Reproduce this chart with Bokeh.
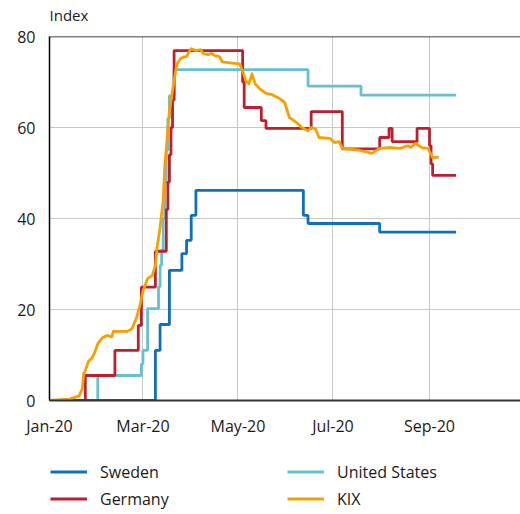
from datetime import datetime
import pandas as pd
from bokeh.plotting import figure
from bokeh.layouts import column
from bokeh.models import (Range1d, FixedTicker, DatetimeTickFormatter, Legend,
                          LegendItem, Span, Label)
from bokeh.embed import file_html
from bokeh.resources import INLINE

# ---------------- data ----------------
sweden_dates = ["2020-01-01", "2020-03-09", "2020-03-12", "2020-03-18", "2020-03-26",
                "2020-03-29", "2020-04-01", "2020-04-04", "2020-06-12", "2020-06-15",
                "2020-07-31", "2020-09-18"]
sweden_vals = [0, 11.0, 16.7, 28.6, 32.3, 35.2, 40.7, 46.2, 40.7, 38.9, 37.0, 37.0]

us_dates = ["2020-01-01", "2020-02-01", "2020-02-29", "2020-03-01", "2020-03-04",
            "2020-03-11", "2020-03-12", "2020-03-13", "2020-03-14", "2020-03-15",
            "2020-03-16", "2020-03-17", "2020-03-18", "2020-03-21", "2020-06-15",
            "2020-07-19", "2020-09-18"]
us_vals = [0, 5.5, 8.0, 11.0, 20.2, 25.0, 29.7, 33.0, 40.0, 48.0, 55.0, 62.0, 67.0,
           72.7, 69.1, 67.1, 67.1]

germany_dates = ["2020-01-01", "2020-01-24", "2020-02-12", "2020-02-27", "2020-02-29",
                 "2020-03-09", "2020-03-16", "2020-03-17", "2020-03-18", "2020-03-19",
                 "2020-03-20", "2020-03-21", "2020-05-04", "2020-05-05", "2020-05-16",
                 "2020-05-19", "2020-06-17", "2020-07-07", "2020-07-31", "2020-08-06",
                 "2020-08-08", "2020-08-24", "2020-09-01", "2020-09-02", "2020-09-03",
                 "2020-09-18"]
germany_vals = [0, 5.5, 11.0, 16.5, 24.9, 32.8, 42.0, 48.0, 54.0, 60.0, 66.0, 76.9,
                70.0, 64.4, 61.5, 59.8, 63.5, 55.3, 57.8, 59.8, 56.9, 59.8, 56.0, 52.0,
                49.5, 49.5]

kix_dates = ["2020-01-01", "2020-01-14", "2020-01-20", "2020-01-22", "2020-01-23",
             "2020-01-24", "2020-01-26", "2020-01-28", "2020-01-30", "2020-02-01",
             "2020-02-04", "2020-02-07", "2020-02-10", "2020-02-11", "2020-02-20",
             "2020-02-23", "2020-02-26", "2020-02-28", "2020-03-01", "2020-03-04",
             "2020-03-07", "2020-03-09", "2020-03-10", "2020-03-12", "2020-03-14",
             "2020-03-15", "2020-03-18", "2020-03-22", "2020-03-23", "2020-03-25",
             "2020-03-27", "2020-03-29", "2020-03-31", "2020-04-01", "2020-04-04",
             "2020-04-07", "2020-04-09", "2020-04-12", "2020-04-14", "2020-04-16",
             "2020-04-19", "2020-04-21", "2020-04-26", "2020-05-02", "2020-05-04",
             "2020-05-06", "2020-05-08", "2020-05-10", "2020-05-12", "2020-05-15",
             "2020-05-19", "2020-05-23", "2020-05-28", "2020-05-31", "2020-06-03",
             "2020-06-08", "2020-06-11", "2020-06-15", "2020-06-17", "2020-06-20",
             "2020-06-22", "2020-06-29", "2020-07-02", "2020-07-05", "2020-07-07",
             "2020-07-18", "2020-07-26", "2020-07-31", "2020-08-06", "2020-08-13",
             "2020-08-18", "2020-08-20", "2020-08-23", "2020-08-27", "2020-08-31",
             "2020-09-03", "2020-09-07"]
kix_vals = [0.0, 0.3, 1.0, 2.5, 6.0, 6.5, 8.6, 9.2, 10.5, 12.5,
            13.8, 14.3, 14.0, 15.2, 15.2, 15.8, 18.3, 20.8, 24.0, 26.8,
            27.5, 29.7, 33.4, 38.0, 44.0, 51.3, 63.7, 72.5, 74.0, 75.1,
            75.5, 75.6, 76.9, 77.3, 76.9, 77.1, 76.2, 76.0, 76.3, 75.8,
            75.6, 74.4, 74.2, 74.0, 72.5, 70.3, 69.6, 71.8, 69.6, 68.5,
            67.5, 67.2, 66.3, 65.5, 62.2, 61.0, 60.0, 59.3, 60.0, 59.6,
            57.8, 57.6, 56.7, 56.9, 55.4, 55.0, 54.3, 55.4, 55.6, 55.4,
            56.0, 55.6, 56.5, 55.6, 55.4, 53.4, 53.5]

tick_dates = ["2020-01-01", "2020-03-01", "2020-05-01", "2020-07-01", "2020-09-01"]
tick_labels = ["Jan-20", "Mar-20", "May-20", "Jul-20", "Sep-20"]
y_ticks = [0, 20, 40, 60, 80]
unit_label = "Index"

series_names = ["Sweden", "Germany", "United States", "KIX"]
colors = {"Sweden": "#1170b8", "Germany": "#be1e2d",
          "United States": "#62c2d2", "KIX": "#f7a000"}
series_data = {"Sweden": (sweden_dates, sweden_vals),
               "Germany": (germany_dates, germany_vals),
               "United States": (us_dates, us_vals),
               "KIX": (kix_dates, kix_vals)}
step_series = {"Sweden", "Germany", "United States"}

FONT = "Open Sans"
LW = 2.8
TXT = "#1a1a1a"


def to_dt(lst):
    return pd.to_datetime(lst)


def blank_strip(height):
    f = figure(width=520, height=height, x_range=Range1d(0, 1), y_range=Range1d(0, 1),
               output_backend="svg", toolbar_location=None, title=None,
               x_axis_location=None, y_axis_location=None,
               min_border_left=49, min_border_right=0,
               min_border_top=0, min_border_bottom=0)
    f.outline_line_color = None
    f.grid.visible = False
    return f


# ---------------- header strip with the unit label ----------------
hdr = blank_strip(26)
hdr.add_layout(Label(x=0, y=12, x_units="screen", y_units="screen", text=unit_label,
                     text_font=FONT, text_font_size="15px", text_color=TXT,
                     text_baseline="middle", text_align="left"))

# ---------------- main chart ----------------
x_start = datetime(2020, 1, 1)
x_end = datetime(2020, 10, 29, 10)

p = figure(frame_width=471, frame_height=364, x_axis_type="datetime",
           x_range=Range1d(x_start, x_end), y_range=Range1d(0, 80),
           output_backend="svg", toolbar_location=None, title=None,
           min_border_left=49, min_border_right=0,
           min_border_top=10, min_border_bottom=40)

p.outline_line_color = None
p.background_fill_color = "white"
p.border_fill_color = "white"

p.xgrid.grid_line_color = "#c8c8c8"
p.ygrid.grid_line_color = "#c8c8c8"
p.xgrid.grid_line_width = 1
p.ygrid.grid_line_width = 1

tick_ms = [pd.Timestamp(d).value / 1e6 for d in tick_dates]
p.xaxis.ticker = FixedTicker(ticks=tick_ms)
p.xaxis.formatter = DatetimeTickFormatter(days="%b-%y", months="%b-%y", years="%b-%y")
p.xaxis.major_label_overrides = {t: lab for t, lab in zip(tick_ms, tick_labels)}
p.yaxis.ticker = FixedTicker(ticks=y_ticks)

for ax in (p.xaxis[0], p.yaxis[0]):
    ax.major_tick_line_color = None
    ax.minor_tick_line_color = None
    ax.major_tick_out = 0
    ax.major_tick_in = 0
    ax.minor_tick_out = 0
    ax.minor_tick_in = 0
    ax.major_label_text_font = FONT
    ax.major_label_text_font_size = "16px"
    ax.major_label_text_color = TXT
    ax.major_label_standoff = 14
p.yaxis.axis_line_color = "black"
p.yaxis.axis_line_width = 1.5
p.xaxis.axis_line_color = "#333333"
p.xaxis.axis_line_width = 2

p.add_layout(Span(location=80, dimension="width", line_color="black", line_width=1.5))


def draw(fig, name, width):
    d, v = series_data[name]
    if name in step_series:
        return fig.step(to_dt(d), v, mode="after", line_color=colors[name], line_width=width)
    return fig.line(to_dt(d), v, line_color=colors[name], line_width=width, line_join="round")


for n in ["United States", "Sweden", "Germany", "KIX"]:
    draw(p, n, LW)

# ---------------- legend strip (below the chart) ----------------
lg = blank_strip(74)
# the same series, outside this strip's visible range: they only feed the legend keys
key_renderers = {n: draw(lg, n, LW + 0.4) for n in series_names}

legend = Legend(items=[LegendItem(label=n, renderers=[key_renderers[n]])
                       for n in series_names],
                location=(1, 2), orientation="vertical", nrows=2,
                glyph_width=37, glyph_height=27, label_height=27, label_standoff=13,
                label_width=187, spacing=0, padding=0, margin=0,
                border_line_color=None, background_fill_alpha=0,
                label_text_font=FONT, label_text_font_size="16px",
                label_text_color=TXT)
lg.add_layout(legend)

layout = column(hdr, p, lg, spacing=0)
open("out.html", "w").write(file_html(layout, INLINE))
